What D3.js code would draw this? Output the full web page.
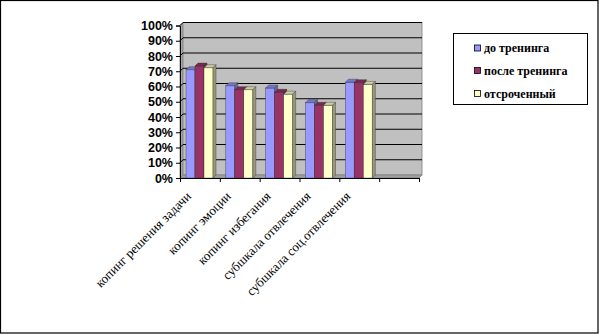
<!DOCTYPE html>
<html><head><meta charset="utf-8">
<script src="https://cdn.jsdelivr.net/npm/d3@7"></script>
<style>body{margin:0;background:#fff}svg{display:block}
.serif{font-family:'Liberation Serif','Times New Roman','DejaVu Serif',serif}
.sans{font-family:'Liberation Sans',Arial,sans-serif}
</style>
</head><body>
<svg id="c" width="599" height="334"></svg>
<script>
const categories = ["копинг решения задачи","копинг эмоции","копинг избегания","субшкала отвлечения","субшкала соц.отвлечения",""];
const seriesNames = ["до тренинга","после тренинга","отсроченный"];
const before = [0.71, 0.605, 0.59, 0.494, 0.628];
const after = [0.734, 0.579, 0.562, 0.477, 0.625];
const delayed = [0.723, 0.579, 0.55, 0.477, 0.614];
const yTicks = [0,0.1,0.2,0.3,0.4,0.5,0.6,0.7,0.8,0.9,1];

const series = [before, after, delayed];
const colors = [
  {front:"#9999FF", top:"#7777CC", side:"#6666AA"},
  {front:"#993366", top:"#7A2850", side:"#5C1E3D"},
  {front:"#FFFFCC", top:"#CCCCA3", side:"#99997A"}
];

const svg = d3.select("#c");
svg.append("rect").attr("x",0.5).attr("y",0.5).attr("width",597.5).attr("height",332.5)
  .attr("fill","#fff").attr("stroke","#000").attr("stroke-width",1.2);

const dx = 3, dy = -3;
const x0 = 180, x1 = 419;
const y = d3.scaleLinear().domain([0,1]).range([178,25.5]);
const x = d3.scaleBand().domain(categories).range([x0,x1]);
const inner = d3.scaleBand().domain(seriesNames).range([6,33]);

svg.append("path")
  .attr("d",`M${x0},${y(1)}L${x0+dx},${y(1)+dy}L${x0+dx},${y(0)+dy}L${x0},${y(0)}Z`)
  .attr("fill","#A8A8A8").attr("stroke","#808080").attr("stroke-width",0.8);
svg.append("rect").attr("x",x0+dx).attr("y",y(1)+dy).attr("width",x1-x0).attr("height",y(0)-y(1))
  .attr("fill","#C0C0C0").attr("stroke","#808080").attr("stroke-width",0.8);
svg.append("path")
  .attr("d",`M${x0},${y(0)}L${x0+dx},${y(0)+dy}L${x1+dx},${y(0)+dy}L${x1},${y(0)}Z`)
  .attr("fill","#A0A0A0").attr("stroke","#808080").attr("stroke-width",0.8);

yTicks.filter(t=>t>0).forEach(t=>{
  svg.append("path")
    .attr("d",`M${x0},${y(t)}L${x0+dx},${y(t)+dy}L${x1+dx},${y(t)+dy}`)
    .attr("fill","none").attr("stroke","#000").attr("stroke-width",1);
});

categories.forEach((c,ci)=>{
  series.forEach((s,si)=>{
    if (ci >= s.length) return;
    const v = s[ci];
    const bx = x(c) + inner(seriesNames[si]);
    const bw = inner.bandwidth();
    const top = y(v), bot = y(0);
    const col = colors[si];
    const g = svg.append("g");
    g.append("rect").attr("x",bx).attr("y",top).attr("width",bw).attr("height",bot-top)
      .attr("fill",col.front).attr("stroke","#333").attr("stroke-width",0.4);
    g.append("path").attr("d",`M${bx},${top}L${bx+dx},${top+dy}L${bx+bw+dx},${top+dy}L${bx+bw},${top}Z`)
      .attr("fill",col.top).attr("stroke","#333").attr("stroke-width",0.4);
    g.append("path").attr("d",`M${bx+bw},${top}L${bx+bw+dx},${top+dy}L${bx+bw+dx},${bot+dy}L${bx+bw},${bot}Z`)
      .attr("fill",col.side).attr("stroke","#333").attr("stroke-width",0.4);
  });
});

const yAxis = d3.axisLeft(y).tickValues(yTicks).tickFormat(d3.format(".0%")).tickSize(4).tickPadding(3);
const ya = svg.append("g").attr("transform",`translate(${x0},0)`).call(yAxis);
ya.attr("font-family",null).attr("font-size",null);
ya.select(".domain").attr("stroke","#000");
ya.selectAll("text").attr("class","sans").attr("font-weight","bold")
  .style("font-size","12.5px").attr("fill","#000");

const xAxis = d3.axisBottom(d3.scaleLinear().domain([0,categories.length]).range([x0,x1]))
  .tickValues(d3.range(categories.length+1)).tickFormat("").tickSize(4).tickSizeOuter(0);
const xa = svg.append("g").attr("transform",`translate(0,${y(0)})`).call(xAxis);
xa.select(".domain").attr("stroke","#000");

categories.forEach(c=>{
  if (!c) return;
  const cx = x(c) + x.bandwidth()/2;
  svg.append("text").attr("class","serif").attr("transform",`translate(${cx-8},${y(0)+19}) rotate(-45)`)
    .attr("text-anchor","end").style("font-size","13px").attr("fill","#000").text(c);
});

const lg = svg.append("g");
lg.append("rect").attr("x",453.5).attr("y",33.5).attr("width",134).attr("height",71)
  .attr("fill","#fff").attr("stroke","#000").attr("stroke-width",1);
const ly = [48, 70.5, 93.5];
seriesNames.forEach((n,i)=>{
  lg.append("rect").attr("x",474.5).attr("y",ly[i]-3).attr("width",6).attr("height",6)
    .attr("fill",colors[i].front).attr("stroke","#000").attr("stroke-width",0.8);
  lg.append("text").attr("class","serif").attr("x",484).attr("y",ly[i]+4)
    .style("font-weight","bold").style("font-size","12px").attr("fill","#000").text(n);
});
</script>
</body></html>
